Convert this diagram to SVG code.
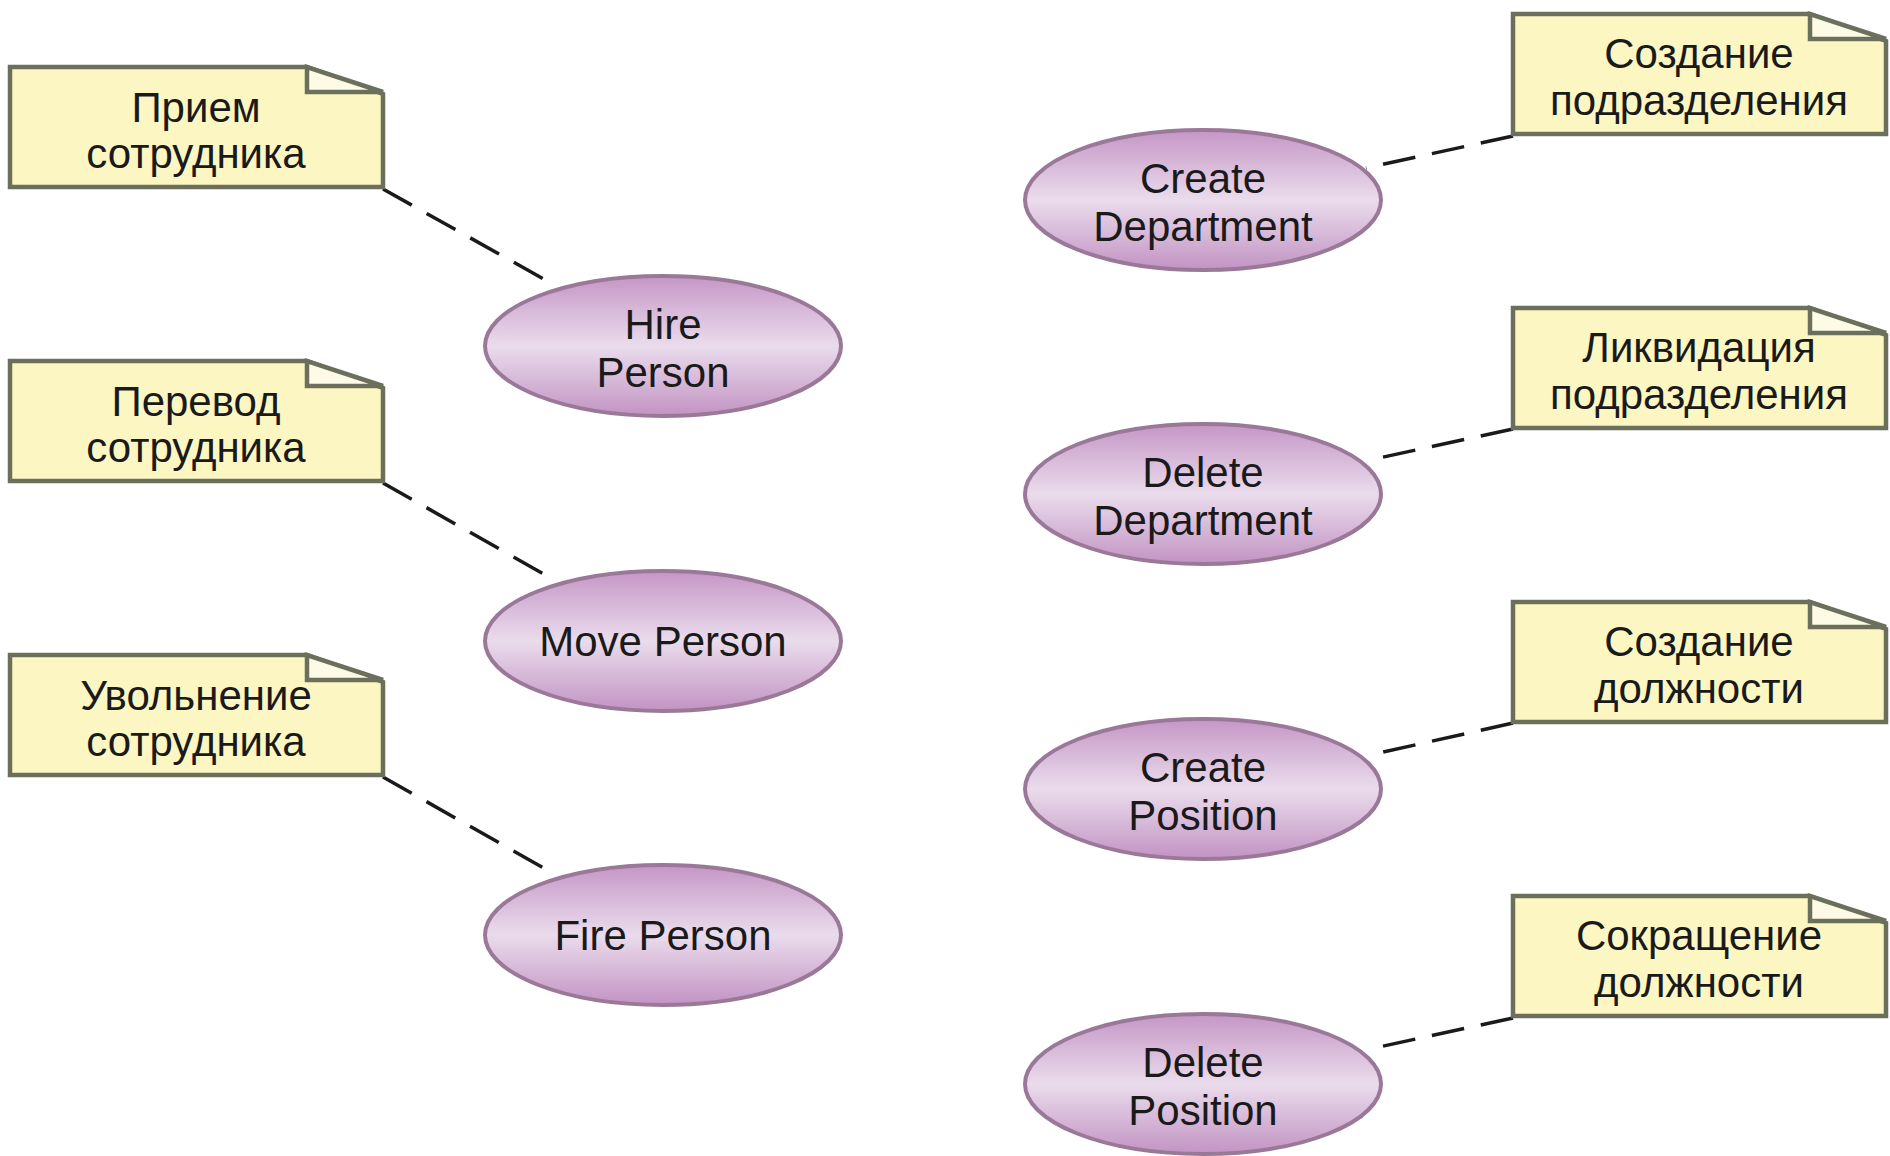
<svg xmlns="http://www.w3.org/2000/svg" xmlns:xlink="http://www.w3.org/1999/xlink" width="1890" height="1156" viewBox="0 0 1890 1156">
  <style>
    .note { fill: #fbf6c2; stroke: #6b705c; stroke-width: 4.5; stroke-linejoin: miter; }
    .fold { fill: #fdfbe6; stroke: #6b705c; stroke-width: 4.5; }
    .uc { fill: url(#ucFill); stroke: #9a7898; stroke-width: 4; }
    .lbl { font-family: "Liberation Sans", Arial, sans-serif; font-size: 42px; fill: #1a1a1a; text-anchor: middle; }
    .link { fill: none; stroke: #1a1a1a; stroke-width: 3.5; stroke-dasharray: 33 17; }
  </style>
  <defs>
    <linearGradient id="ucFill" x1="0" y1="0" x2="0" y2="1">
      <stop offset="0" stop-color="#c596c6"/>
      <stop offset="0.5" stop-color="#eadcec"/>
      <stop offset="1" stop-color="#c293c3"/>
    </linearGradient>
    <!-- note outline with folded top-right corner -->
    <path id="noteBody" d="M0,0 H297 L373,27 V120 H0 Z"/>
    <path id="noteFold" d="M297,0 V25 H373 L297,0 Z"/>
  </defs>
  <rect width="1890" height="1156" fill="#ffffff"/>

  <!-- dashed note anchors -->
  <g id="connectors">
    <line class="link" x1="383" y1="189" x2="549" y2="282"/>
    <line class="link" x1="383" y1="483" x2="549" y2="577"/>
    <line class="link" x1="383" y1="777" x2="549" y2="871"/>
    <line class="link" x1="1513" y1="136" x2="1366" y2="168"/>
    <line class="link" x1="1513" y1="429" x2="1379" y2="458"/>
    <line class="link" x1="1513" y1="723" x2="1379" y2="753"/>
    <line class="link" x1="1513" y1="1018" x2="1379" y2="1047"/>
  </g>

  <!-- notes, left column -->
  <g id="note-hire" transform="translate(10,67)">
    <use xlink:href="#noteBody" class="note"/>
    <use xlink:href="#noteFold" class="fold"/>
    <text class="lbl" x="186" y="55">Прием</text>
    <text class="lbl" x="186" y="101">сотрудника</text>
  </g>
  <g id="note-move" transform="translate(10,361)">
    <use xlink:href="#noteBody" class="note"/>
    <use xlink:href="#noteFold" class="fold"/>
    <text class="lbl" x="186" y="55">Перевод</text>
    <text class="lbl" x="186" y="101">сотрудника</text>
  </g>
  <g id="note-fire" transform="translate(10,655)">
    <use xlink:href="#noteBody" class="note"/>
    <use xlink:href="#noteFold" class="fold"/>
    <text class="lbl" x="186" y="55">Увольнение</text>
    <text class="lbl" x="186" y="101">сотрудника</text>
  </g>

  <!-- notes, right column -->
  <g id="note-create-dept" transform="translate(1513,14)">
    <use xlink:href="#noteBody" class="note"/>
    <use xlink:href="#noteFold" class="fold"/>
    <text class="lbl" x="186" y="54">Создание</text>
    <text class="lbl" x="186" y="101">подразделения</text>
  </g>
  <g id="note-delete-dept" transform="translate(1513,308)">
    <use xlink:href="#noteBody" class="note"/>
    <use xlink:href="#noteFold" class="fold"/>
    <text class="lbl" x="186" y="54">Ликвидация</text>
    <text class="lbl" x="186" y="101">подразделения</text>
  </g>
  <g id="note-create-pos" transform="translate(1513,602)">
    <use xlink:href="#noteBody" class="note"/>
    <use xlink:href="#noteFold" class="fold"/>
    <text class="lbl" x="186" y="54">Создание</text>
    <text class="lbl" x="186" y="101">должности</text>
  </g>
  <g id="note-delete-pos" transform="translate(1513,896)">
    <use xlink:href="#noteBody" class="note"/>
    <use xlink:href="#noteFold" class="fold"/>
    <text class="lbl" x="186" y="54">Сокращение</text>
    <text class="lbl" x="186" y="101">должности</text>
  </g>

  <!-- use cases -->
  <g id="uc-hire-person">
    <ellipse class="uc" cx="663" cy="346" rx="178" ry="70"/>
    <text class="lbl" x="663" y="339">Hire</text>
    <text class="lbl" x="663" y="387">Person</text>
  </g>
  <g id="uc-move-person">
    <ellipse class="uc" cx="663" cy="641" rx="178" ry="70"/>
    <text class="lbl" x="663" y="656">Move Person</text>
  </g>
  <g id="uc-fire-person">
    <ellipse class="uc" cx="663" cy="935" rx="178" ry="70"/>
    <text class="lbl" x="663" y="950">Fire Person</text>
  </g>
  <g id="uc-create-department">
    <ellipse class="uc" cx="1203" cy="200" rx="178" ry="70"/>
    <text class="lbl" x="1203" y="193">Create</text>
    <text class="lbl" x="1203" y="241">Department</text>
  </g>
  <g id="uc-delete-department">
    <ellipse class="uc" cx="1203" cy="494" rx="178" ry="70"/>
    <text class="lbl" x="1203" y="487">Delete</text>
    <text class="lbl" x="1203" y="535">Department</text>
  </g>
  <g id="uc-create-position">
    <ellipse class="uc" cx="1203" cy="789" rx="178" ry="70"/>
    <text class="lbl" x="1203" y="782">Create</text>
    <text class="lbl" x="1203" y="830">Position</text>
  </g>
  <g id="uc-delete-position">
    <ellipse class="uc" cx="1203" cy="1084" rx="178" ry="70"/>
    <text class="lbl" x="1203" y="1077">Delete</text>
    <text class="lbl" x="1203" y="1125">Position</text>
  </g>
</svg>
